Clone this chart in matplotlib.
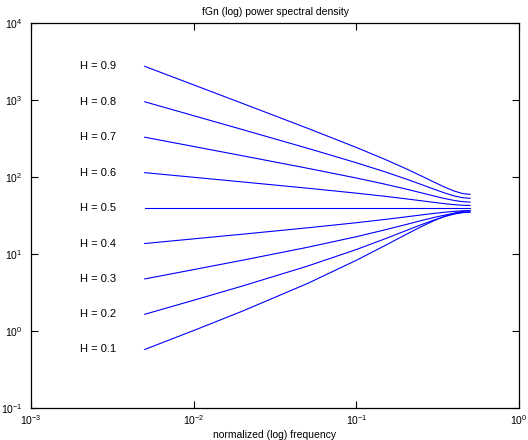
import matplotlib
matplotlib.use("Agg")
import matplotlib.pyplot as plt
from matplotlib.ticker import LogLocator, NullLocator

plt.rcParams['font.family'] = ['Liberation Sans', 'DejaVu Sans']
plt.rcParams['mathtext.fontset'] = 'custom'
plt.rcParams['mathtext.rm'] = 'Liberation Sans'
plt.rcParams['mathtext.it'] = 'Liberation Sans:italic'

# normalized frequency
freq = [0.005, 0.01, 0.02, 0.05, 0.1, 0.15, 0.2, 0.25, 0.3, 0.35, 0.4, 0.45, 0.5]

hurst = [0.1, 0.2, 0.3, 0.4, 0.5, 0.6, 0.7, 0.8, 0.9]

# power spectral density, one list per H
psd_01 = [0.5752, 1.014, 1.816, 4.134, 8.282, 12.87, 17.73, 22.57, 27.09, 30.99, 33.98, 35.87, 36.51]
psd_02 = [1.648, 2.509, 3.846, 6.956, 11.43, 15.74, 19.96, 23.97, 27.60, 30.66, 32.99, 34.44, 34.93]
psd_03 = [4.745, 6.271, 8.309, 12.21, 16.77, 20.59, 24.02, 27.11, 29.81, 32.04, 33.70, 34.72, 35.07]
psd_04 = [13.68, 15.73, 18.09, 21.86, 25.48, 28.11, 30.28, 32.12, 33.66, 34.90, 35.80, 36.35, 36.54]
psd_05 = [39.48, 39.48, 39.48, 39.48, 39.48, 39.48, 39.48, 39.48, 39.48, 39.48, 39.48, 39.48, 39.48]
psd_06 = [113.9, 99.14, 86.26, 71.57, 61.69, 56.12, 52.18, 49.16, 46.80, 45.00, 43.72, 42.96, 42.70]
psd_07 = [328.7, 249.0, 188.6, 130.0, 97.03, 80.69, 70.08, 62.43, 56.72, 52.50, 49.57, 47.84, 47.26]
psd_08 = [948.3, 625.5, 412.3, 236.5, 153.1, 116.7, 94.93, 80.13, 69.54, 61.96, 56.82, 53.82, 52.83]
psd_09 = [2736, 1571, 901.5, 430.4, 242.0, 169.4, 129.3, 103.6, 85.97, 73.76, 65.66, 61.00, 59.48]

curves = [psd_01, psd_02, psd_03, psd_04, psd_05, psd_06, psd_07, psd_08, psd_09]

fig = plt.figure(figsize=(5.28, 4.40), dpi=100)
ax = fig.add_axes([31/528, 32/440, 488/528, 385/440])

for h, psd in zip(hurst, curves):
    ax.loglog(freq, psd, color='#0000ff', linewidth=0.8)
    ax.text(0.002, psd[0], "H = %.1f" % h, fontsize=8, va='center', ha='left')

ax.set_xlim(1e-3, 1)
ax.set_ylim(1e-1, 1e4)
ax.xaxis.set_major_locator(LogLocator(base=10, numticks=10))
ax.yaxis.set_major_locator(LogLocator(base=10, numticks=10))
ax.xaxis.set_minor_locator(NullLocator())
ax.yaxis.set_minor_locator(NullLocator())
ax.tick_params(which='both', direction='in', top=True, right=True, length=5,
               width=0.8, labelsize=7.5)
ax.tick_params(axis='x', pad=4)
ax.tick_params(axis='y', pad=6)
for s in ax.spines.values():
    s.set_linewidth(0.9)

ax.set_title("fGn (log) power spectral density", fontsize=7.5, pad=6)
ax.set_xlabel("normalized (log) frequency", fontsize=7.5, labelpad=2)

fig.savefig("out.png", dpi=100)
